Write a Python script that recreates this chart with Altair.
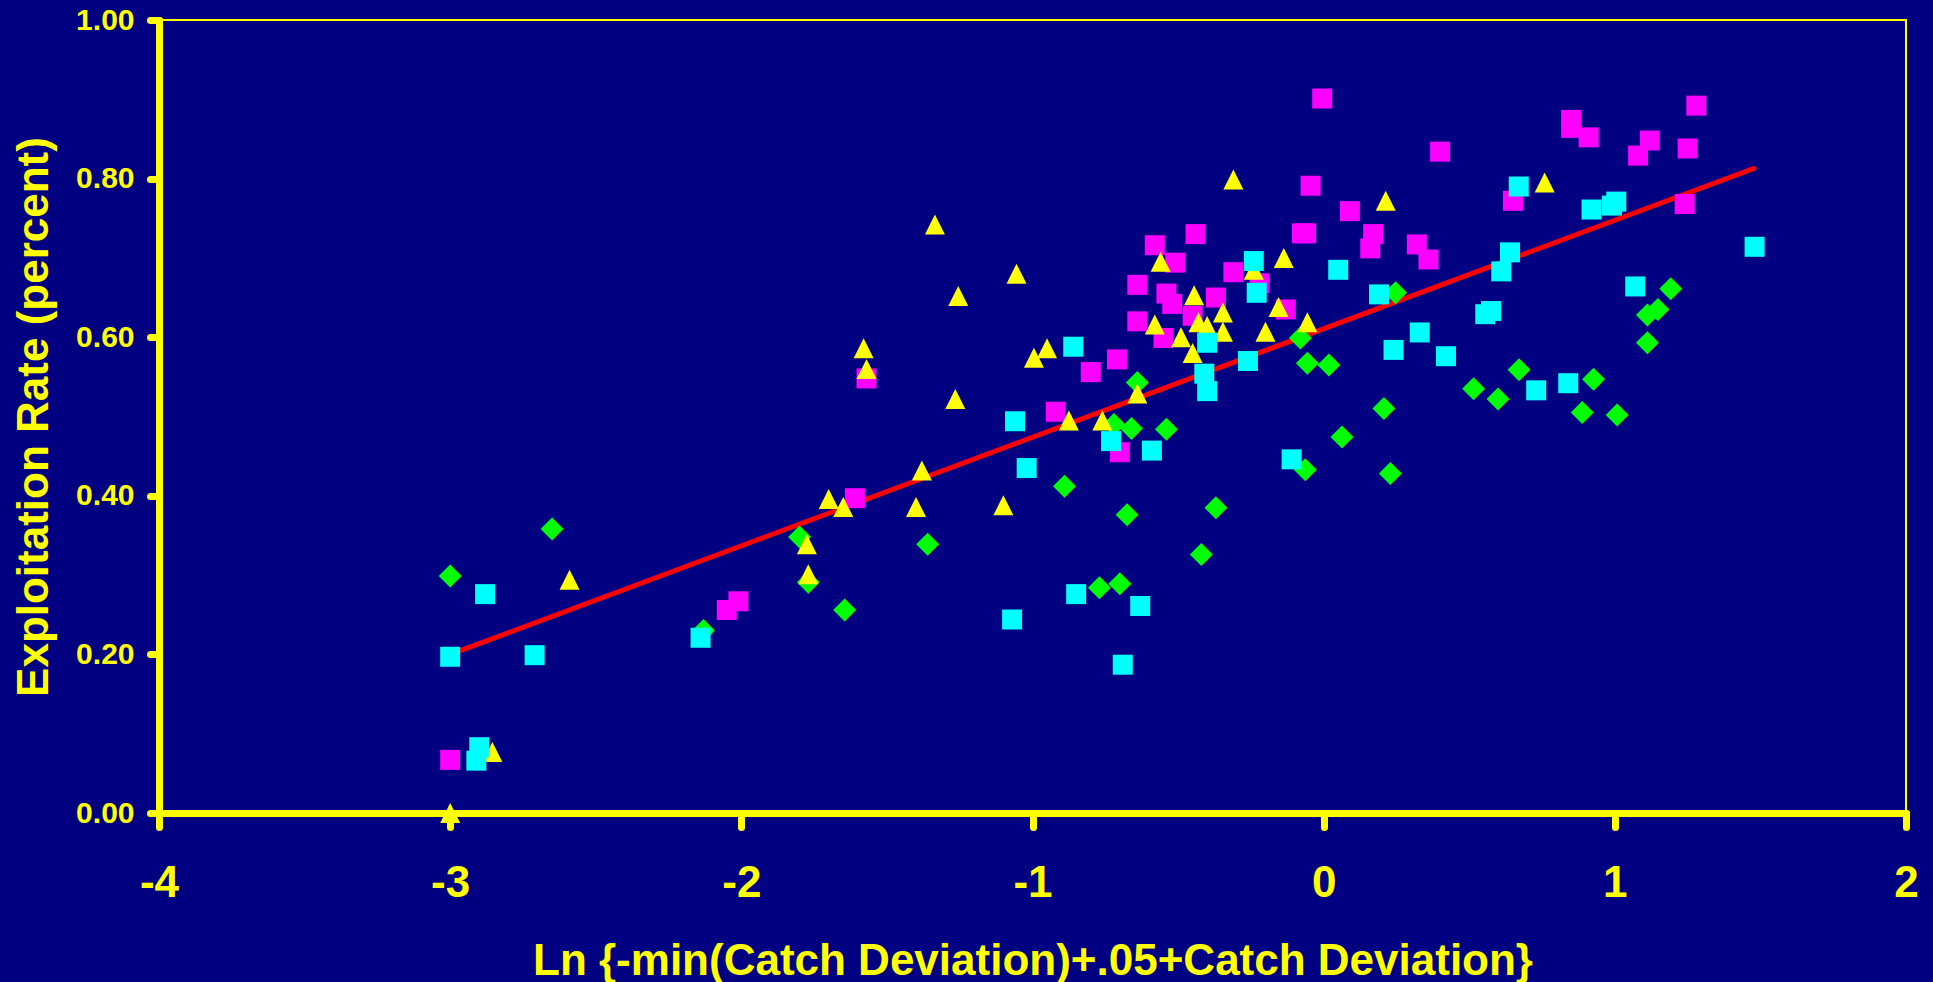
import altair as alt
import pandas as pd

# ---- data ----
mag_x = [-3.00, -2.05, -2.01, -1.61, -1.57, -0.92, -0.80, -0.71, -0.70, -0.64, -0.64, -0.58, -0.55, -0.54,
         -0.52, -0.51, -0.45, -0.44, -0.37, -0.31, -0.22, -0.13, -0.075, -0.06, -0.045, -0.005, 0.09, 0.16,
         0.17, 0.32, 0.36, 0.40, 0.65, 0.85, 0.85, 0.91, 1.08, 1.12, 1.24, 1.25, 1.28]
mag_y = [0.067, 0.256, 0.267, 0.397, 0.548, 0.506, 0.556, 0.572, 0.455, 0.666, 0.620, 0.716, 0.599, 0.655,
         0.642, 0.694, 0.627, 0.730, 0.650, 0.682, 0.668, 0.635, 0.731, 0.731, 0.791, 0.901, 0.759, 0.712,
         0.730, 0.717, 0.698, 0.834, 0.772, 0.874, 0.864, 0.852, 0.829, 0.848, 0.768, 0.838, 0.892]

cyan_x = [-3.00, -2.91, -2.90, -2.88, -2.71, -2.14, -1.07, -1.06, -1.02, -0.86, -0.85, -0.73, -0.69, -0.63,
          -0.59, -0.41, -0.40, -0.40, -0.26, -0.24, -0.23, -0.11, 0.05, 0.19, 0.24, 0.33, 0.42, 0.555, 0.575,
          0.61, 0.64, 0.67, 0.73, 0.84, 0.92, 0.99, 1.005, 1.07, 1.48]
cyan_y = [0.197, 0.066, 0.083, 0.276, 0.199, 0.221, 0.244, 0.494, 0.435, 0.588, 0.276, 0.469, 0.187, 0.261,
          0.457, 0.554, 0.593, 0.532, 0.570, 0.696, 0.656, 0.446, 0.685, 0.654, 0.584, 0.606, 0.576, 0.629,
          0.633, 0.683, 0.707, 0.790, 0.533, 0.542, 0.761, 0.766, 0.771, 0.664, 0.714]

green_x = [-3.00, -2.65, -2.13, -1.80, -1.77, -1.645, -1.36, -0.89, -0.77, -0.72, -0.70, -0.675, -0.66, -0.64,
           -0.54, -0.42, -0.37, -0.08, -0.063, -0.056, 0.018, 0.063, 0.207, 0.229, 0.247, 0.515, 0.599, 0.671,
           0.888, 0.927, 1.008, 1.112, 1.112, 1.148, 1.192]
green_y = [0.299, 0.358, 0.230, 0.348, 0.291, 0.256, 0.339, 0.412, 0.284, 0.490, 0.289, 0.376, 0.485, 0.543,
           0.484, 0.326, 0.385, 0.599, 0.433, 0.567, 0.565, 0.474, 0.510, 0.428, 0.656, 0.535, 0.522, 0.559,
           0.505, 0.547, 0.502, 0.593, 0.628, 0.635, 0.661]

yel_x = [-3.00, -2.855, -2.59, -1.775, -1.77, -1.70, -1.65, -1.58, -1.57, -1.40, -1.38, -1.335, -1.265, -1.255,
         -1.10, -1.055, -0.995, -0.95, -0.875, -0.76, -0.64, -0.58, -0.56, -0.49, -0.45, -0.445, -0.43, -0.40,
         -0.346, -0.346, -0.31, -0.24, -0.20, -0.155, -0.137, -0.056, 0.213, 0.759]
yel_y = [0.000, 0.077, 0.294, 0.339, 0.301, 0.396, 0.386, 0.586, 0.560, 0.386, 0.432, 0.742, 0.522, 0.652,
         0.388, 0.680, 0.574, 0.586, 0.495, 0.495, 0.529, 0.616, 0.695, 0.600, 0.580, 0.653, 0.619, 0.614,
         0.631, 0.607, 0.799, 0.685, 0.607, 0.638, 0.700, 0.619, 0.772, 0.795]

trend_x = [-3.0, 1.478]
trend_y = [0.200, 0.813]

x_ticks = [-4, -3, -2, -1, 0, 1, 2]
y_ticks = [0.0, 0.2, 0.4, 0.6, 0.8, 1.0]
x_title = "Ln {-min(Catch Deviation)+.05+Catch Deviation}"
y_title = "Exploitation Rate (percent)"

YEL = "#FFFF00"
FONT = "Liberation Sans"

xscale = alt.Scale(domain=[-4, 2], nice=False, zero=False)
yscale = alt.Scale(domain=[0, 1], nice=False, zero=False)

xaxis = alt.Axis(
    values=x_ticks, title=x_title, grid=False, labelExpr="datum.value + ''",
    labelFlush=False, labelOverlap=False,
    domainColor=YEL, domainWidth=7, domainCap="round",
    tickColor=YEL, tickWidth=7, tickSize=14, tickCap="round",
    labelColor=YEL, labelFont=FONT, labelFontSize=44, labelFontWeight="bold", labelPadding=34,
    titleColor=YEL, titleFont=FONT, titleFontSize=44, titleFontWeight="bold",
    titleBaseline="alphabetic", titleY=161,
)
yaxis = alt.Axis(
    values=y_ticks, title=y_title, grid=False, format=".2f",
    labelFlush=False, labelOverlap=False,
    domainColor=YEL, domainWidth=7, domainCap="round",
    tickColor=YEL, tickWidth=7, tickSize=9, tickCap="round",
    labelColor=YEL, labelFont=FONT, labelFontSize=30, labelFontWeight="bold", labelPadding=16,
    titleColor=YEL, titleFont=FONT, titleFontSize=44, titleFontWeight="bold",
    titleBaseline="alphabetic", titleAngle=270, titleX=-112,
)


def enc(chart):
    return chart.encode(
        x=alt.X("x:Q", scale=xscale, axis=xaxis),
        y=alt.Y("y:Q", scale=yscale, axis=yaxis),
    )


df_trend = pd.DataFrame({"x": trend_x, "y": trend_y})
df_mag = pd.DataFrame({"x": mag_x, "y": mag_y})
df_cyan = pd.DataFrame({"x": cyan_x, "y": cyan_y})
df_green = pd.DataFrame({"x": green_x, "y": green_y})
df_yel = pd.DataFrame({"x": yel_x, "y": yel_y})

trend = enc(alt.Chart(df_trend).mark_line(color="#FF0000", strokeWidth=5, strokeCap="round"))
mag = enc(alt.Chart(df_mag).mark_point(shape="square", filled=True, size=400, color="#FF00FF", opacity=1))
green = enc(alt.Chart(df_green).mark_point(shape="diamond", filled=True, size=529, color="#00FF00", opacity=1))
yel = enc(alt.Chart(df_yel).mark_point(shape="M0,-1L1,1L-1,1Z", filled=True, size=400, color=YEL, opacity=1))
cyan = enc(alt.Chart(df_cyan).mark_point(shape="square", filled=True, size=400, color="#00FFFF", opacity=1))

chart = alt.layer(trend, mag, green, yel, cyan).properties(
    width=1747,
    height=793,
    autosize=alt.AutoSizeParams(type="none"),
    padding={"left": 159, "top": 20, "right": 27, "bottom": 169},
    background="#000080",
).configure_view(stroke=YEL, strokeWidth=2)

chart.save("out.html", embed_options={"renderer": "svg", "actions": False})
